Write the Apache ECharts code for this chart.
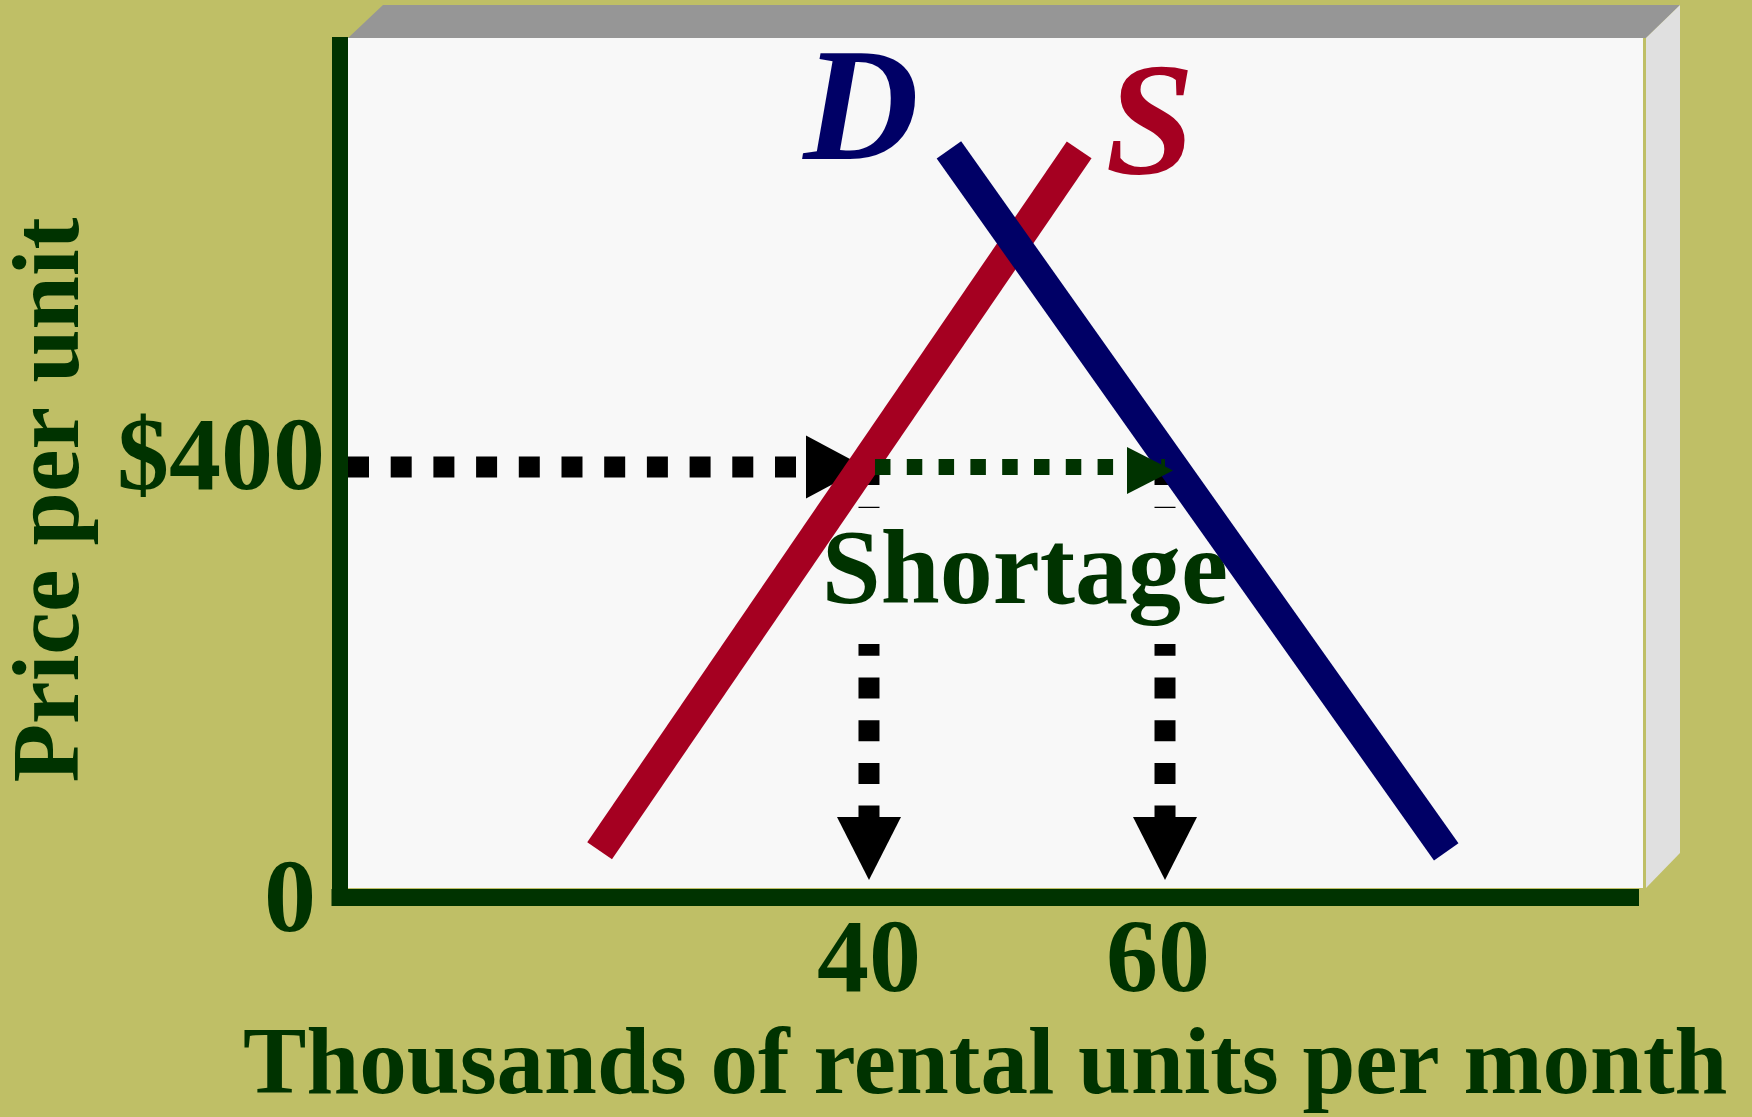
<!DOCTYPE html>
<html><head><meta charset="utf-8">
<script src="https://cdn.jsdelivr.net/npm/echarts@6/dist/echarts.min.js"></script>
<style>html,body{margin:0;padding:0;background:#BFBF66;}#c{width:1752px;height:1117px;}</style>
</head><body><div id="c"></div>
<script>
// ---- data ----
const quantityTicks = [40, 60];
const quantityTickLabels = ['40', '60'];
const priceTicks = [0, 400];
const priceTickLabels = ['0', '$400'];
const supplyPoints = [[21.8, 43], [54.2, 695]];
const demandPoints = [[45.4, 695], [79.0, 42]];
const ceilingPrice = 400;
const quantitySupplied = 40;
const quantityDemanded = 60;
const ceilingLineStart = 4.8;
const dropLineEnd = 60;
const curveNames = ['D', 'S'];
const annotationText = 'Shortage';
const xTitle = 'Thousands of rental units per month';
const yTitle = 'Price per unit';

// ---- style ----
const GREEN = '#003300', RED = '#A50021', NAVY = '#000066';
const FONT = '"Liberation Serif", "Times New Roman", serif';

const chart = echarts.init(document.getElementById('c'), null, {renderer: 'canvas'});

const dotted = (data, z, dashOffset) => ({
  type: 'line', data: data, symbol: 'none', silent: true, z: z,
  lineStyle: {color: '#000', width: 21, type: [21, 21.7], dashOffset: dashOffset || 0, cap: 'butt'}
});
const arrowHead = (data, z, color, size, rotate, offset) => ({
  type: 'scatter', silent: true, z: z, data: data,
  symbol: 'triangle', symbolSize: size, symbolRotate: rotate, symbolOffset: offset,
  itemStyle: {color: color, opacity: 1}, emphasis: {disabled: true}
});

const xLabelRich = {
  q0: {color: GREEN, fontFamily: FONT, fontWeight: 'bold', fontSize: 104, padding: [0, 0, 0, 0]},
  q1: {color: GREEN, fontFamily: FONT, fontWeight: 'bold', fontSize: 104, padding: [0, 14, 0, 0]}
};

const option = {
  backgroundColor: '#BFBF66',
  animation: false,
  grid: {left: 340, top: 37, right: 121.5, bottom: 220, containLabel: false, outerBoundsMode: 'none'},
  xAxis: {
    type: 'value', min: 4.26, max: 91.45,
    axisLine: {show: true, onZero: false, lineStyle: {color: GREEN, width: 17, cap: 'square'}},
    axisTick: {show: false}, splitLine: {show: false},
    axisLabel: {
      customValues: quantityTicks,
      formatter: v => { const i = quantityTicks.indexOf(v); return '{q' + i + '|' + quantityTickLabels[i] + '}'; },
      rich: xLabelRich, margin: 15
    },
    name: xTitle, nameLocation: 'middle', nameGap: 124, nameMoveOverlap: false,
    nameTextStyle: {color: GREEN, fontFamily: FONT, fontWeight: 'bold', fontSize: 95}
  },
  yAxis: {
    type: 'value', min: 0, max: 800,
    axisLine: {show: true, onZero: false, lineStyle: {color: GREEN, width: 16, cap: 'butt'}},
    axisTick: {show: false}, splitLine: {show: false},
    axisLabel: {
      customValues: priceTicks,
      formatter: v => { const i = priceTicks.indexOf(v); return '{t' + i + '|' + priceTickLabels[i] + '}'; },
      margin: 15,
      rich: {
        t0: {color: GREEN, fontFamily: FONT, fontWeight: 'bold', fontSize: 104, padding: [15, 9, 0, 0]},
        t1: {color: GREEN, fontFamily: FONT, fontWeight: 'bold', fontSize: 104, padding: [0, 0, 9, 0]}
      }
    },
    name: yTitle, nameLocation: 'middle', nameRotate: 90, nameGap: 239, nameMoveOverlap: false,
    nameTextStyle: {color: GREEN, fontFamily: FONT, fontWeight: 'bold', fontSize: 96, padding: [0, 66, 0, 0]}
  },
  series: [
    dotted([[ceilingLineStart, ceilingPrice], [quantitySupplied, ceilingPrice]], 2, 0),
    arrowHead([[quantitySupplied, ceilingPrice]], 2, '#000', [63, 59], -90, [-33.5, 0]),
    dotted([[quantitySupplied, ceilingPrice], [quantitySupplied, dropLineEnd]], 3, 3),
    dotted([[quantityDemanded, ceilingPrice], [quantityDemanded, dropLineEnd]], 3, 3),
    arrowHead([[quantitySupplied, 0], [quantityDemanded, 0]], 3, '#000', [64, 63], 180, [0, -48.5]),
    {type: 'line', name: 'S', data: supplyPoints, symbol: 'none', silent: true, z: 5,
     lineStyle: {color: RED, width: 30, cap: 'butt'}},
    {type: 'line', name: 'D', data: demandPoints, symbol: 'none', silent: true, z: 6,
     lineStyle: {color: NAVY, width: 30, cap: 'butt'}},
    {type: 'line', data: [[quantitySupplied, ceilingPrice], [quantityDemanded, ceilingPrice]],
     symbol: 'none', silent: true, z: 7,
     lineStyle: {color: GREEN, width: 16, type: [15.5, 16.3], dashOffset: 25.8, cap: 'butt'}},
    arrowHead([[quantityDemanded, ceilingPrice]], 7, GREEN, [47, 46], -90, [-15, 3.5])
  ]
};

option.graphic = {elements: [
  {type: 'polygon', z: -10, silent: true, shape: {points: [[348, 38], [383, 5], [1680, 5], [1646, 38]]}, style: {fill: '#969696'}},
  {type: 'polygon', z: -10, silent: true, shape: {points: [[1646, 38], [1680, 5], [1680, 853], [1646, 888]]}, style: {fill: '#E0E0E0'}},
  {type: 'rect', z: -10, silent: true, shape: {x: 348, y: 38, width: 1295, height: 850}, style: {fill: '#F8F8F8'}},
  {type: 'text', z: 4, silent: true, x: 1025, y: 576,
   style: {text: annotationText, font: 'bold 106px ' + FONT, fill: GREEN, align: 'center', verticalAlign: 'middle',
           backgroundColor: '#F8F8F8', lineHeight: 136, padding: [0, 2]}},
  {type: 'text', z: 10, silent: true, x: 861, y: 118,
   style: {text: curveNames[0], font: 'italic bold 160px ' + FONT, fill: NAVY, align: 'center', verticalAlign: 'middle'}},
  {type: 'text', z: 10, silent: true, x: 1150, y: 132,
   style: {text: curveNames[1], font: 'italic bold 160px ' + FONT, fill: RED, align: 'center', verticalAlign: 'middle'}}
]};

chart.setOption(option);
</script>
</body></html>
